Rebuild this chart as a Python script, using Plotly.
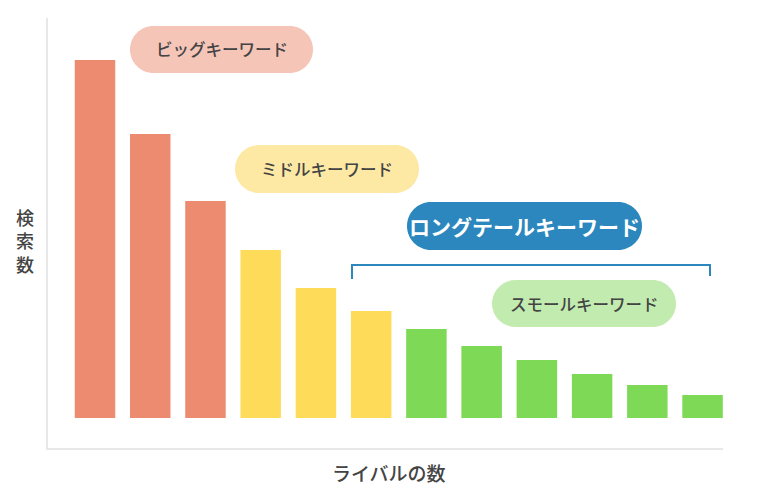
import plotly.graph_objects as go

# ---- data ----
categories = list(range(1, 13))
search_volume = [358, 284, 217, 168, 130, 107, 89, 72, 58, 44, 33, 23]
groups = ["big"] * 3 + ["middle"] * 3 + ["small"] * 6
group_colors = {"big": "#ec8b70", "middle": "#fedc5a", "small": "#7ed957"}

label_texts = ["ビッグキーワード", "ミドルキーワード", "ロングテールキーワード", "スモールキーワード"]
x_title = "ライバルの数"
y_title = "検索数"

# ---- layout constants (page pixels) ----
W, H = 760, 500
L, R, T, B = 48, 37, 18, 52
PW, PH = W - L - R, H - T - B
FONT = "Noto Sans CJK JP"


def px2paper(px, py):
    return (px - L) / PW, (H - B - py) / PH


def pill_path(x0, yt, x1, yb):
    r = (yb - yt) / 2
    yc = (yt + yb) / 2
    k = 0.5523 * r
    def P(x, y):
        a, b = px2paper(x, y)
        return f"{a:.5f},{b:.5f}"
    p = f"M {P(x0 + r, yt)} L {P(x1 - r, yt)} "
    p += f"C {P(x1 - r + k, yt)} {P(x1, yc - k)} {P(x1, yc)} "
    p += f"C {P(x1, yc + k)} {P(x1 - r + k, yb)} {P(x1 - r, yb)} "
    p += f"L {P(x0 + r, yb)} "
    p += f"C {P(x0 + r - k, yb)} {P(x0, yc + k)} {P(x0, yc)} "
    p += f"C {P(x0, yc - k)} {P(x0 + r - k, yt)} {P(x0 + r, yt)} Z"
    return p


fig = go.Figure()
fig.add_trace(go.Bar(
    x=categories,
    y=search_volume,
    marker=dict(color=[group_colors[g] for g in groups], line=dict(width=0)),
    width=0.733,
    hoverinfo="skip",
))

shapes = []
annotations = []

pills = [
    # (x0, yt, x1, yb, fill, text color, font size, weight, label)
    (130, 26, 313, 73, "#f5c5b8", "#444444", 16.5, 500, label_texts[0]),
    (235, 145, 419, 193, "#fde9a4", "#444444", 16.5, 500, label_texts[1]),
    (407, 202, 642, 250, "#2b87bd", "#ffffff", 21, 700, label_texts[2]),
    (492, 280, 676, 327, "#c2ecaf", "#444444", 16.5, 500, label_texts[3]),
]
for x0, yt, x1, yb, fill, tc, fs, wt, txt in pills:
    shapes.append(dict(type="path", xref="paper", yref="paper", path=pill_path(x0, yt, x1, yb),
                       fillcolor=fill, line=dict(width=0), layer="above"))
    cx, cy = px2paper((x0 + x1) / 2, (yt + yb) / 2)
    annotations.append(dict(x=cx, y=cy, xref="paper", yref="paper", text=txt, showarrow=False,
                            font=dict(family=FONT, size=fs, color=tc, weight=wt),
                            xanchor="center", yanchor="middle"))

# bracket
bx0, by0 = px2paper(352, 279)
bx1, by1 = px2paper(352, 265)
bx2, by2 = px2paper(710, 265)
bx3, by3 = px2paper(710, 276)
shapes.append(dict(type="path", xref="paper", yref="paper",
                   path=f"M {bx0},{by0} L {bx1},{by1} L {bx2},{by2} L {bx3},{by3}",
                   line=dict(color="#2b87bd", width=2), layer="above"))

# y title (vertical stacked, one text)
cx, cy = px2paper(25, 240)
annotations.append(dict(x=cx, y=cy, xref="paper", yref="paper", text="<br>".join(y_title),
                        showarrow=False,
                        font=dict(family=FONT, size=18, color="#444444", weight=500),
                        xanchor="center", yanchor="middle"))
# x title
cx, cy = px2paper(389, 472)
annotations.append(dict(x=cx, y=cy, xref="paper", yref="paper", text=x_title, showarrow=False,
                        font=dict(family=FONT, size=19, color="#444444", weight=500),
                        xanchor="center", yanchor="middle"))

fig.update_layout(
    width=W, height=H,
    margin=dict(l=L, r=R, t=T, b=B, pad=0),
    paper_bgcolor="white", plot_bgcolor="white",
    showlegend=False,
    shapes=shapes,
    annotations=annotations,
    xaxis=dict(range=[0.149, 12.37], showgrid=False, zeroline=False, showticklabels=False,
               ticks="", showline=True, linecolor="#e8e8e8", linewidth=2, fixedrange=True),
    yaxis=dict(range=[-30, 400], showgrid=False, zeroline=False, showticklabels=False,
               ticks="", showline=True, linecolor="#e8e8e8", linewidth=2, fixedrange=True),
    font=dict(family=FONT),
)

fig.write_html("out.html", config={"displayModeBar": False})
